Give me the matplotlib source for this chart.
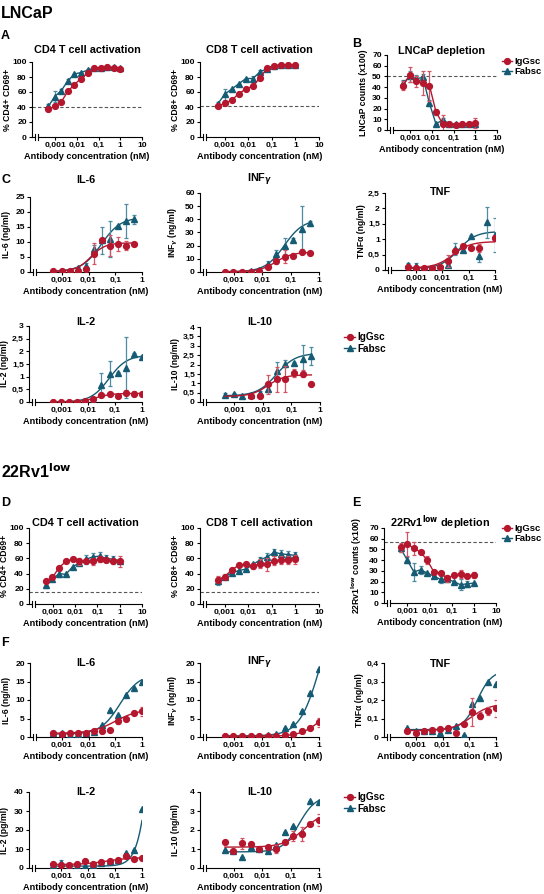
import numpy as np
import matplotlib
matplotlib.use('Agg')
import matplotlib.pyplot as plt
from matplotlib.lines import Line2D
from matplotlib.ticker import FuncFormatter, LogLocator, NullFormatter, MultipleLocator

plt.rcParams['font.family'] = ['Liberation Sans', 'DejaVu Sans']
plt.rcParams['font.weight'] = 'bold'
plt.rcParams['axes.labelweight'] = 'bold'
plt.rcParams['axes.linewidth'] = 0.8

W, H = 544, 894
RED = '#B5172E'
RED_ERR = '#D25565'
TEAL = '#165B74'
TEAL_ERR = '#4F8CA2'

# antibody concentrations (nM)
conc_12 = [0.00049, 0.00098, 0.00195, 0.0039, 0.0078, 0.0156, 0.03125, 0.0625, 0.125, 0.25, 0.5, 1.0]
conc_11 = [0.00049, 0.00098, 0.00195, 0.0039, 0.0078, 0.0156, 0.03125, 0.0625, 0.125, 0.25, 0.5]
nan = np.nan

# ---- LNCaP ----
lnc_cd4_igg = [37, 41, 47, 61, 70, 78, 85, 92, 92, 93, 92, 91]
lnc_cd4_igg_err = [2, 0, 0, 0, 0, 0, 0, 2, 0, 0, 0, 2]
lnc_cd4_fab = [41, 54, 62, 75, 84, 86, 89, 92, 92, 93, 93, 92]
lnc_cd4_fab_err = [3, 7, 2, 2, 0, 0, 2, 0, 0, 2, 0, 0]
lnc_cd8_igg = [41, 45, 49, 58, 64, 68, 79, 92, 95, 96, 96, 96]
lnc_cd8_igg_err = [2, 0, 0, 0, 0, 0, 0, 0, 0, 0, 0, 0]
lnc_cd8_fab = [44, 57, 64, 71, 78, 78, 87, 91, 95, 96, 96, 96]
lnc_cd8_fab_err = [3, 7, 0, 0, 0, 3, 2, 0, 0, 0, 0, 0]
lnc_dep_igg = [41.5, 51.5, 45.5, 44, 41.5, 17, 6, 5.5, 5, 5.5, 5.5, 6.5]
lnc_dep_igg_err = [4, 7, 5, 11, 14, 3, 8, 2, 1, 2, 2, 5]
lnc_dep_fab = [44, 50, 48, 49, 25, 5.5, 9.5, 6, 5.5, 5.5, 5.5, 5.5]
lnc_dep_fab_err = [3, 5, 3, 3, 3, 0, 2, 1, 1, 1, 1, 1]

lnc_il6_igg = [0.3, 0.3, 0.3, 0.4, 1.0, 6.0, 10.6, 8.7, 9.3, 8.8, 9.2]
lnc_il6_igg_err = [0, 0, 0, 0, 0.5, 3.5, 0.5, 3.5, 2.3, 1.5, 0.5]
lnc_il6_fab = [0.2, 0.2, 0.2, 1.2, 2.0, 7.5, 10.5, 11.0, 15.2, 17.0, 17.6]
lnc_il6_fab_err = [0, 0, 0, 0.3, 1.0, 1.5, 4.5, 6.0, 0.3, 5.7, 1.5]
lnc_inf_igg = [0.3, 0.3, 0.3, 0.3, 0.6, 3.5, 8.0, 11.5, 12.5, 15.5, 14.5]
lnc_inf_igg_err = [0, 0, 0, 0, 0, 1, 2, 5, 2, 2, 1]
lnc_inf_fab = [0.2, 0.2, 0.2, 0.5, 1.5, 6.0, 14.0, 20.0, 24.5, 32.5, 37.0]
lnc_inf_fab_err = [0, 0, 0, 0, 0.5, 2, 3, 6, 1, 18, 2]
lnc_tnf_igg = [0.11, 0.05, 0.08, 0.08, 0.11, 0.30, 0.62, 0.78, 0.70, 0.72, nan, 1.05]
lnc_tnf_igg_err = [0.05, 0.05, 0.03, 0.03, 0.05, 0.2, 0.1, 0.05, 0.05, 0.12, 0, 0.1]
lnc_tnf_fab = [0.16, 0.14, 0.05, 0.05, 0.06, 0.15, 0.68, 0.65, 1.10, 0.47, 1.55, 1.15]
lnc_tnf_fab_err = [0.08, 0.1, 0, 0, 0, 0.05, 0.2, 0.05, 0.05, 0.2, 0.5, 0.55]
lnc_il2_igg = [0, 0, 0, 0, 0.03, 0.13, 0.26, 0.30, 0.24, 0.37, 0.33, 0.33]
lnc_il2_igg_err = [0, 0, 0, 0, 0, 0.05, 0.05, 0, 0, 0.1, 0.1, 0.05]
lnc_il2_fab = [0, 0, 0, 0, 0, 0.02, 0.69, 1.12, 1.15, 1.36, 1.89, 1.76]
lnc_il2_fab_err = [0, 0, 0, 0, 0, 0, 0.45, 0.5, 0.05, 1.2, 0.05, 0.05]
lnc_il10_igg = [nan, nan, nan, 0.32, 0.32, 0.95, 1.21, 1.21, 1.55, 1.52, 0.95]
lnc_il10_igg_err = [0, 0, 0, 0, 0.1, 0.5, 0.65, 0.7, 0.2, 0.2, 0]
lnc_il10_fab = [0.36, 0.41, 0.32, 0.35, 0.50, 0.71, 1.66, 2.05, 2.08, 2.32, 2.46]
lnc_il10_fab_err = [0.1, 0.05, 0.1, 0.05, 0.1, 0.15, 0.5, 0.2, 0.05, 0.7, 0.5]

# fitted dose-response parameters: bottom, top, EC50, Hill slope
lnc_il6_fit = {'igg': [0.2, 9.7, 0.012, 1.6], 'fab': [0.2, 18.2, 0.03, 1.2]}
lnc_inf_fit = {'igg': [0.2, 15.0, 0.03, 1.5], 'fab': [0.2, 40.0, 0.06, 1.3]}
lnc_tnf_fit = {'igg': [0.07, 0.92, 0.025, 1.3], 'fab': [0.05, 1.25, 0.04, 1.3]}
lnc_il2_fit = {'igg': [0.0, 0.34, 0.02, 1.5], 'fab': [0.0, 1.85, 0.06, 1.3]}
lnc_il10_fit = {'igg': [0.3, 1.45, 0.015, 1.5], 'fab': [0.33, 2.6, 0.03, 1.3]}

# ---- 22Rv1 low ----
rv_cd4_igg = [30, 35, 48, 56, 59, 56, 56, 56, 59, 58, 56, 56]
rv_cd4_igg_err = [3, 0, 0, 0, 0, 5, 0, 5, 4, 0, 4, 7]
rv_cd4_fab = [25, 33, 40, 39, 49, 54, 59, 62, 63, 60, 59, 57]
rv_cd4_fab_err = [4, 0, 4, 0, 0, 0, 6, 5, 6, 5, 4, 0]
rv_cd8_igg = [32, 36, 45, 51, 52, 50, 53, 52, 57, 58, 58, 59]
rv_cd8_igg_err = [5, 0, 0, 0, 0, 4, 6, 8, 6, 5, 5, 6]
rv_cd8_fab = [30, 36, 41, 44, 46, 52, 58, 62, 68, 66, 65, 64]
rv_cd8_fab_err = [5, 3, 0, 0, 0, 0, 4, 5, 5, 5, 5, 4]
rv_dep_igg = [52, 55, 51, 47.5, 40, 29, 28, 23, 26, 27, 25, 26]
rv_dep_igg_err = [4, 11, 6, 0, 4, 0, 0, 3, 2, 4, 0, 3]
rv_dep_fab = [51, 40, 29, 31, 28, 25, 22, 22, 20, 17, 18, 18.5]
rv_dep_fab_err = [3, 3, 8, 4, 0, 0, 3, 0, 0, 5, 3, 0]

rv_il6_igg = [1.0, 0.7, 1.0, 1.0, 1.2, 1.5, 1.6, 1.8, 4.2, 4.8, 6.6, 7.0]
rv_il6_igg_err = [0, 0, 0, 0, 0, 0, 0, 0, 0.8, 0.3, 0.3, 1.2]
rv_il6_fab = [1.2, 1.0, 0.6, 0.8, 1.0, 1.4, 3.2, 7.3, 5.9, 11.4, 13.2, 15.0]
rv_il6_fab_err = [0, 0, 0, 0, 0, 0, 0, 0, 0, 0, 0, 0]
rv_inf_igg = [0.3, 0.3, 0.3, 0.3, 0.3, 0.3, 0.4, 0.5, 0.8, 1.5, 2.5, 4.0]
rv_inf_igg_err = [0, 0, 0, 0, 0, 0, 0, 0, 0, 0.3, 0.5, 1.2]
rv_inf_fab = [0.3, 0.3, 0.3, 0.3, 0.3, 0.5, 0.8, 2.3, 3.5, 7.0, 11.9, 18.4]
rv_inf_fab_err = [0, 0, 0, 0, 0, 0, 0, 0, 0, 0, 0, 0]
rv_tnf_igg = [0.03, 0.02, 0.03, 0.04, 0.045, 0.05, 0.02, 0.07, 0.135, 0.115, 0.14, 0.155]
rv_tnf_igg_err = [0, 0, 0, 0, 0, 0, 0, 0.01, 0.075, 0.02, 0.02, 0.045]
rv_tnf_fab = [0.05, 0.03, 0.03, 0.03, 0.02, 0.04, 0.06, 0.01, 0.18, 0.21, 0.295, 0.285]
rv_tnf_fab_err = [0, 0, 0, 0, 0, 0, 0, 0, 0, 0, 0, 0]
rv_il2_igg = [2.3, 1.4, 1.8, 1.9, 3.5, 1.9, 3.2, 3.7, 4.4, 6.4, 5.0, 5.3]
rv_il2_igg_err = [0, 0, 0, 0, 0, 0, 0, 0, 0, 0, 0, 0]
rv_il2_fab = [1.4, 2.6, 1.0, 1.0, 0.9, 1.4, 2.5, 3.5, 4.4, 8.0, 9.4, 31.0]
rv_il2_fab_err = [0, 1.5, 0, 0, 0, 0, 0, 0, 0, 0, 0, 0]
rv_il10_igg = [1.38, 0.9, 1.29, 1.26, 1.02, 1.12, 0.99, 1.35, 1.68, 1.79, 2.3, 2.53]
rv_il10_igg_err = [0, 0, 0.3, 0, 0, 0, 0.2, 0, 0.25, 0.35, 0, 0.3]
rv_il10_fab = [0.97, 0.9, 0.58, 1.08, 0.99, 0.9, 1.2, 1.91, 2.23, 1.91, 3.54, 3.5]
rv_il10_fab_err = [0, 0, 0, 0, 0, 0, 0, 0, 0, 0, 0, 0]

rv_il6_fit = {'igg': [1.0, 7.5, 0.1, 1.0], 'fab': [0.8, 17.0, 0.15, 1.2]}
rv_inf_fit = {'igg': [0.2, 8.0, 1.0, 1.3], 'fab': [0.3, 38.0, 1.1, 1.2]}
rv_tnf_fit = {'igg': [0.035, 0.18, 0.12, 1.2], 'fab': [0.04, 0.36, 0.2, 1.6]}
rv_il2_fit = {'igg': [1.8, 5.5, 0.05, 1.0], 'fab': [1.0, 150.0, 2.5, 1.8]}
rv_il10_fit = {'igg': [1.1, 3.0, 0.3, 1.2], 'fab': [0.85, 3.8, 0.2, 1.5]}


def hill(x, p):
    bottom, top, ec50, n = p
    return bottom + (top - bottom) / (1 + (ec50 / x) ** n)


def comma(v, pos):
    return ('%g' % v).replace('.', ',')


fig = plt.figure(figsize=(W / 100, H / 100), dpi=100)
MS = 4.2


def make_ax(box, xmin, xmax, ymax, ystep, ylabel, title, title_y):
    l, t, r, b = box
    ax = fig.add_axes([l / W, 1 - b / H, (r - l) / W, (b - t) / H])
    ax.set_xscale('log')
    ax.set_xlim(xmin, xmax)
    ax.set_ylim(0, ymax)
    ax.spines['top'].set_visible(False)
    ax.spines['right'].set_visible(False)
    ax.spines['bottom'].set_visible(False)
    majors = [v for v in [0.001, 0.01, 0.1, 1, 10] if v <= xmax * 1.01]
    ax.set_xticks(majors)
    ax.xaxis.set_major_formatter(FuncFormatter(comma))
    ax.xaxis.set_minor_locator(LogLocator(base=10, subs=np.arange(2, 10)))
    ax.xaxis.set_minor_formatter(NullFormatter())
    ax.yaxis.set_major_locator(MultipleLocator(ystep))
    ax.yaxis.set_major_formatter(FuncFormatter(comma))
    ax.tick_params(axis='both', which='major', labelsize=6.1, length=2.5, width=0.8, pad=1.2)
    ax.tick_params(axis='x', which='minor', length=1.3, width=0.6)
    ax.set_xlabel('Antibody concentration (nM)', fontsize=6.6, labelpad=2)
    ax.set_ylabel(ylabel, fontsize=6.2)
    ax.yaxis.set_label_coords(-19.5 / (r - l), 0.5)
    # x axis with break near the origin
    kw = dict(transform=ax.transAxes, color='black', lw=0.8, clip_on=False)
    ax.plot([0, 0.025], [0, 0], **kw)
    ax.plot([0.05, 1], [0, 0], **kw)
    for xb in (0.025, 0.05):
        ax.plot([xb, xb], [-0.035, 0.035], **kw)
    fig.text((l + r) / 2 / W, 1 - title_y / H, title, ha='center', va='center',
             fontsize=7.8, fontweight='bold')
    return ax


def connected(ax, x, y, err, color, ecolor, marker):
    ax.errorbar(x, y, yerr=err, fmt='none', ecolor=ecolor, elinewidth=0.9,
                capsize=1.6, capthick=0.9)
    ax.plot(x, y, '-', marker=marker, color=color, ms=MS, lw=1.0)


def fitted(ax, x, y, err, p, color, ecolor, marker):
    xs = np.geomspace(x[0], x[-1], 120)
    ax.plot(xs, hill(xs, p), '-', color=color, lw=1.0)
    ax.errorbar(x, y, yerr=err, fmt='none', ecolor=ecolor, elinewidth=0.9,
                capsize=1.6, capthick=0.9)
    ax.plot(x, y, marker=marker, color=color, ms=MS, linestyle='none')


def pair_connected(ax, x, igg, igg_err, fab, fab_err, dash=None):
    if dash is not None:
        ax.axhline(dash, color='#555555', lw=0.8, ls=(0, (3, 2)))
    connected(ax, x, fab, fab_err, TEAL, TEAL_ERR, '^')
    connected(ax, x, igg, igg_err, RED, RED_ERR, 'o')


def pair_fitted(ax, x, igg, igg_err, fab, fab_err, fit):
    fitted(ax, x, fab, fab_err, fit['fab'], TEAL, TEAL_ERR, '^')
    fitted(ax, x, igg, igg_err, fit['igg'], RED, RED_ERR, 'o')


def legend(x, y, size=7.2):
    handles = [Line2D([], [], color=RED, marker='o', ms=MS, lw=1.0),
               Line2D([], [], color=TEAL, marker='^', ms=MS, lw=1.0)]
    fig.legend(handles, ['IgGsc', 'Fabsc'], loc='upper left',
               bbox_to_anchor=(x / W, 1 - y / H), frameon=False, fontsize=size,
               handlelength=1.1, handletextpad=0.25, borderpad=0, borderaxespad=0,
               labelspacing=0.15)


XA = 8.7e-5
XC = 6.5e-5

# ---- LNCaP panels ----
ax = make_ax((32, 62, 142, 137), XA, 10, 100, 20, '% CD4+ CD69+', 'CD4 T cell activation', 50)
pair_connected(ax, conc_12, lnc_cd4_igg, lnc_cd4_igg_err, lnc_cd4_fab, lnc_cd4_fab_err, 40)
ax = make_ax((200, 62, 319, 137), XA, 10, 100, 20, '% CD8+ CD69+', 'CD8 T cell activation', 50)
pair_connected(ax, conc_12, lnc_cd8_igg, lnc_cd8_igg_err, lnc_cd8_fab, lnc_cd8_fab_err, 42)
ax = make_ax((387, 55, 497, 130), XA, 10, 70, 10, 'LNCaP counts (x100)', 'LNCaP depletion', 51)
pair_connected(ax, conc_12, lnc_dep_igg, lnc_dep_igg_err, lnc_dep_fab, lnc_dep_fab_err, 50)
legend(502, 57, 6.8)

ax = make_ax((30, 197, 142, 272), XC, 1, 25, 5, 'IL-6 (ng/ml)', 'IL-6', 180)
pair_fitted(ax, conc_11, lnc_il6_igg, lnc_il6_igg_err, lnc_il6_fab, lnc_il6_fab_err, lnc_il6_fit)
ax = make_ax((200, 193, 319, 272), XC, 1, 60, 10, r'INF$_\gamma$ (ng/ml)', r'INF$_\gamma$', 180)
pair_fitted(ax, conc_11, lnc_inf_igg, lnc_inf_igg_err, lnc_inf_fab, lnc_inf_fab_err, lnc_inf_fit)
ax = make_ax((385, 193, 495, 270), XC, 1, 2.5, 0.5, 'TNFα (ng/ml)', 'TNF', 192)
pair_fitted(ax, conc_12, lnc_tnf_igg, lnc_tnf_igg_err, lnc_tnf_fab, lnc_tnf_fab_err, lnc_tnf_fit)
ax = make_ax((29, 326, 142, 402), XC, 1, 3, 0.5, 'IL-2 (ng/ml)', 'IL-2', 322)
pair_fitted(ax, conc_12, lnc_il2_igg, lnc_il2_igg_err, lnc_il2_fab, lnc_il2_fab_err, lnc_il2_fit)
ax = make_ax((200, 327, 320, 402), XC, 1, 4, 0.5, 'IL-10 (ng/ml)', 'IL-10', 322)
pair_fitted(ax, conc_11, lnc_il10_igg, lnc_il10_igg_err, lnc_il10_fab, lnc_il10_fab_err, lnc_il10_fit)
legend(344, 332)

# ---- 22Rv1 low panels ----
ax = make_ax((29, 528, 142, 604), XA, 10, 100, 20, '% CD4+ CD69+', 'CD4 T cell activation', 523)
pair_connected(ax, conc_12, rv_cd4_igg, rv_cd4_igg_err, rv_cd4_fab, rv_cd4_fab_err, 16)
ax = make_ax((200, 528, 319, 604), XA, 10, 100, 20, '% CD8+ CD69+', 'CD8 T cell activation', 523)
pair_connected(ax, conc_12, rv_cd8_igg, rv_cd8_igg_err, rv_cd8_fab, rv_cd8_fab_err, 16)
ax = make_ax((384, 528, 496, 603), XA, 10, 70, 10, r'22Rv1$^{\mathrm{low}}$ counts (x100)',
             r'22Rv1$^{\mathrm{low}}$ depletion', 523)
pair_connected(ax, conc_12, rv_dep_igg, rv_dep_igg_err, rv_dep_fab, rv_dep_fab_err, 57)
legend(502, 524, 6.8)

ax = make_ax((30, 663, 142, 737), XC, 1, 20, 5, 'IL-6 (ng/ml)', 'IL-6', 663)
pair_fitted(ax, conc_12, rv_il6_igg, rv_il6_igg_err, rv_il6_fab, rv_il6_fab_err, rv_il6_fit)
ax = make_ax((200, 663, 319, 737), XC, 1, 20, 5, r'INF$_\gamma$ (ng/ml)', r'INF$_\gamma$', 663)
pair_fitted(ax, conc_12, rv_inf_igg, rv_inf_igg_err, rv_inf_fab, rv_inf_fab_err, rv_inf_fit)
ax = make_ax((384, 663, 496, 737), XC, 1, 0.4, 0.1, 'TNFα (ng/ml)', 'TNF', 664)
pair_fitted(ax, conc_12, rv_tnf_igg, rv_tnf_igg_err, rv_tnf_fab, rv_tnf_fab_err, rv_tnf_fit)
ax = make_ax((29, 792, 142, 868), XC, 1, 40, 10, 'IL-2 (pg/ml)', 'IL-2', 792)
pair_fitted(ax, conc_12, rv_il2_igg, rv_il2_igg_err, rv_il2_fab, rv_il2_fab_err, rv_il2_fit)
ax = make_ax((200, 792, 319, 868), XC, 1, 4, 1, 'IL-10 (ng/ml)', 'IL-10', 792)
pair_fitted(ax, conc_12, rv_il10_igg, rv_il10_igg_err, rv_il10_fab, rv_il10_fab_err, rv_il10_fit)
legend(344, 792)


# section headers and panel letters
def label(x, y, s, size):
    fig.text(x / W, 1 - y / H, s, ha='left', va='center', fontsize=size, fontweight='bold')


label(1, 13, 'LNCaP', 11.5)
label(1, 36, 'A', 9)
label(352, 44, 'B', 9)
label(1, 180, 'C', 9)
label(1, 472, r'22Rv1$^{\mathrm{low}}$', 11.5)
label(1, 503, 'D', 9)
label(352, 503, 'E', 9)
label(1, 643, 'F', 9)

fig.savefig('out.png', dpi=100)
